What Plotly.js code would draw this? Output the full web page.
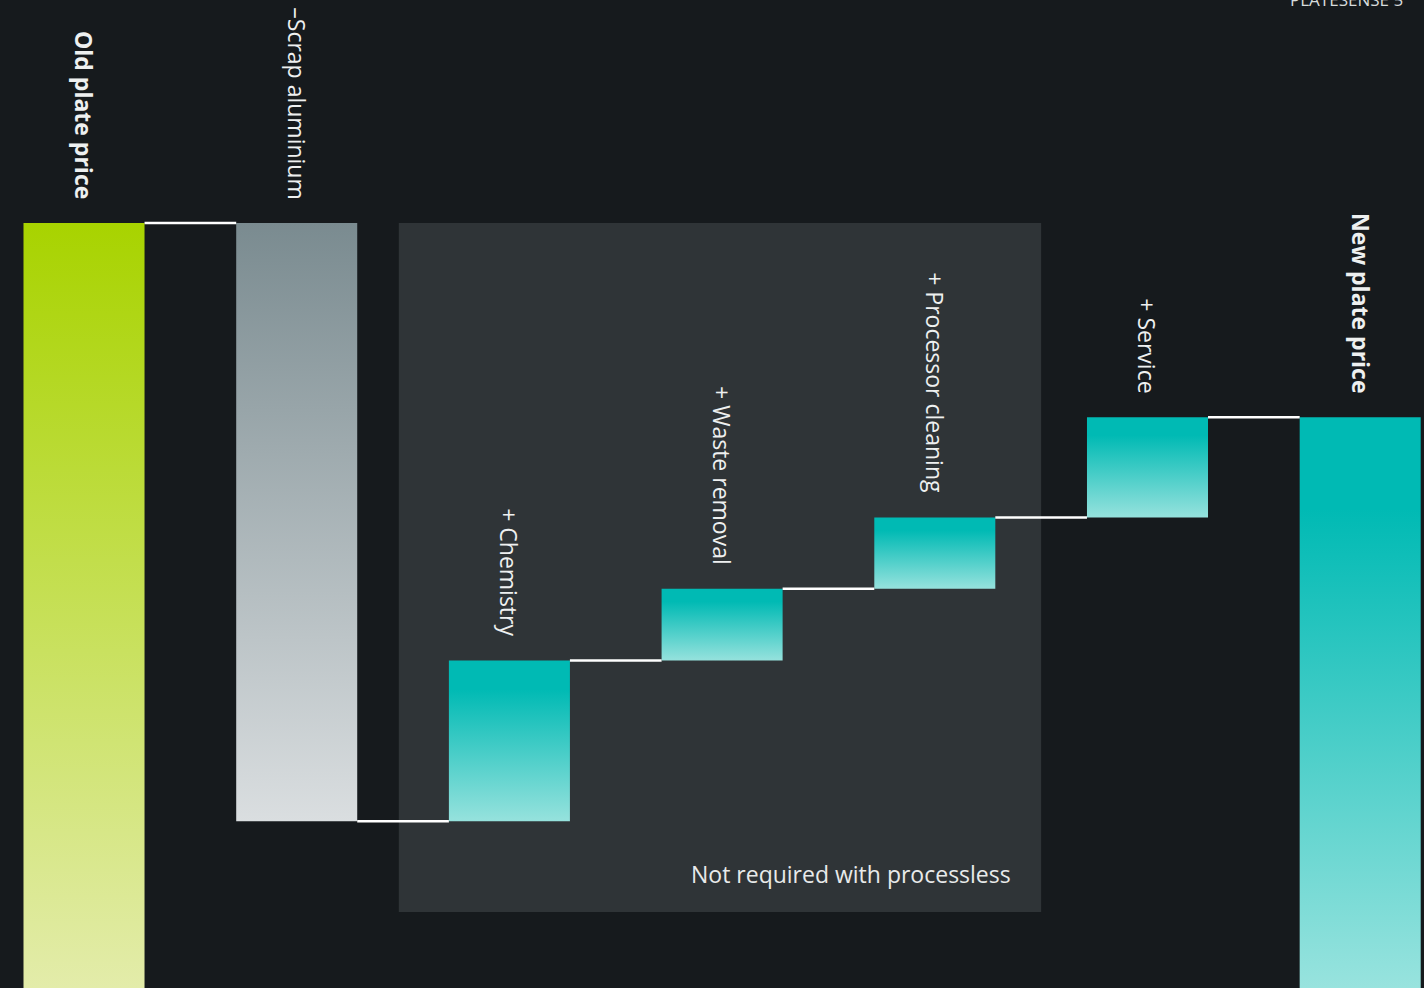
<!DOCTYPE html>
<html>
<head>
<meta charset="utf-8">
<script src="https://cdn.plot.ly/plotly-3.0.1.min.js"></script>
<style>
  html, body { margin: 0; padding: 0; background: #161a1d; }
  #chart { width: 1424px; height: 988px; }
</style>
</head>
<body>
<div id="chart"></div>
<script>
// ---- data ----
const categories = ['Old plate price', '\u2013Scrap aluminium', '+ Chemistry', '+ Waste removal', '+ Processor cleaning', '+ Service', 'New plate price'];
const measures = ['absolute', 'relative', 'relative', 'relative', 'relative', 'relative', 'total'];
const values = [100, -78.2, 21.0, 9.4, 9.3, 13.1, 0];
const boxLabel = 'Not required with processless';
const headerText = 'PLATESENSE 5';

// ---- styles ----
const topColors = ['#a8d300', '#7a8b90', '#00bab4', '#00bab4', '#00bab4', '#00bab4', '#00bab4'];
const bottomColors = ['#e3ecaa', '#dadee0', '#96e2dd', '#96e2dd', '#96e2dd', '#96e2dd', '#98e3de'];
const solidTop = [0, 0, 0.18, 0.18, 0.18, 0.18, 0.16];
const boldLabel = [true, false, false, false, false, false, true];
const halfW = 0.2845;
const FONT = '"Open Sans", sans-serif';

// ---- waterfall geometry from data ----
const bases = [], tops = [], levels = [];
let run = 0;
for (let i = 0; i < values.length; i++) {
  let lo, hi;
  if (measures[i] === 'absolute') { run = values[i]; lo = 0; hi = run; }
  else if (measures[i] === 'total') { lo = 0; hi = run; }
  else { const prev = run; run = prev + values[i]; lo = Math.min(prev, run); hi = Math.max(prev, run); }
  bases.push(lo); tops.push(hi); levels.push(run);
}

const traces = [];
for (let i = 0; i < categories.length; i++) {
  const s = solidTop[i];
  const cs = s > 0
    ? [[0, bottomColors[i]], [1 - s, topColors[i]], [1, topColors[i]]]
    : [[0, bottomColors[i]], [1, topColors[i]]];
  traces.push({
    type: 'scatter',
    mode: 'lines',
    x: [i - halfW, i + halfW, i + halfW, i - halfW, i - halfW],
    y: [bases[i], bases[i], tops[i], tops[i], bases[i]],
    fill: 'toself',
    fillcolor: topColors[i],
    fillgradient: { type: 'vertical', colorscale: cs },
    line: { width: 0, color: 'rgba(0,0,0,0)' },
    hoverinfo: 'skip',
    showlegend: false
  });
}

// connectors
const cx = [], cy = [];
for (let i = 0; i < categories.length - 1; i++) {
  cx.push(i + halfW, i + 1 - halfW, null);
  cy.push(levels[i], levels[i], null);
}
traces.push({
  type: 'scatter', mode: 'lines', x: cx, y: cy,
  line: { color: '#ffffff', width: 2.5 },
  hoverinfo: 'skip', showlegend: false
});

const annotations = categories.map((c, i) => ({
  x: i, y: tops[i], xref: 'x', yref: 'y',
  text: boldLabel[i] ? '<b>' + c + '</b>' : c,
  textangle: 90,
  showarrow: false,
  xanchor: 'center', yanchor: 'bottom',
  yshift: 22,
  font: { family: FONT, size: 23, color: '#eef0f0' }
}));
annotations.push({
  x: 4.5, y: 14.9, xref: 'x', yref: 'y',
  text: boxLabel, showarrow: false,
  xanchor: 'right', yanchor: 'middle', xshift: -28,
  font: { family: FONT, size: 23, color: '#e8eaea' }
});
annotations.push({
  x: 0.9867, y: 1, xref: 'paper', yref: 'paper',
  text: headerText, showarrow: false,
  xanchor: 'right', yanchor: 'bottom', yshift: -13,
  font: { family: FONT, size: 17, color: '#d8dcdc' }
});

const layout = {
  width: 1424, height: 988,
  margin: { l: 0, r: 0, t: 0, b: 0, pad: 0 },
  paper_bgcolor: '#161a1d', plot_bgcolor: '#161a1d',
  showlegend: false,
  xaxis: { range: [-0.395, 6.3], visible: false, fixedrange: true },
  yaxis: { range: [0, 129.15], visible: false, fixedrange: true },
  shapes: [{
    type: 'rect', xref: 'x', yref: 'y', layer: 'below',
    x0: 1.48, x1: 4.5, y0: 9.93, y1: tops[0],
    fillcolor: '#2f3437', line: { width: 0 }
  }],
  annotations: annotations
};

Plotly.newPlot('chart', traces, layout, { staticPlot: true, displayModeBar: false });
</script>
</body>
</html>
